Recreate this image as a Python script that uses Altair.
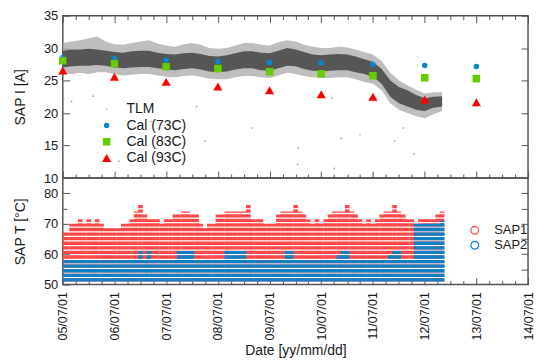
import altair as alt
import pandas as pd

# ---------------- data ----------------
# TLM current band: outer fringe and dense core, bimonthly
tlm_dates = ["2005-07-01","2005-09-01","2005-11-01","2006-01-01","2006-03-01","2006-05-01",
             "2006-07-01","2006-09-01","2006-11-01","2007-01-01","2007-03-01","2007-05-01",
             "2007-07-01","2007-09-01","2007-11-01","2008-01-01","2008-03-01","2008-05-01",
             "2008-07-01","2008-09-01","2008-11-01","2009-01-01","2009-03-01","2009-05-01",
             "2009-07-01","2009-09-01","2009-11-01","2010-01-01","2010-03-01","2010-05-01",
             "2010-07-01","2010-09-01","2010-11-01","2011-01-01","2011-03-01","2011-05-01",
             "2011-07-01","2011-09-01","2011-11-01","2012-01-01","2012-03-01","2012-05-01",
             "2012-07-01","2012-09-01","2012-11-01"]
tlm_outer_lo = [26.0,26.0,26.2,26.0,26.3,26.3,26.0,25.8,25.9,26.0,26.0,25.8,25.6,25.5,25.7,
                25.8,25.6,25.3,25.2,25.2,25.5,25.7,25.7,25.5,25.4,25.8,26.2,26.0,25.7,25.5,
                25.4,25.4,25.5,25.5,25.2,24.8,24.5,23.5,21.5,20.5,20.0,19.5,19.2,19.8,20.3]
tlm_core_lo = [27.0,27.2,27.3,27.3,27.4,27.3,27.0,26.9,27.0,27.1,27.1,26.9,26.7,26.6,26.8,
               26.9,26.7,26.4,26.3,26.4,26.7,26.9,26.9,26.6,26.5,26.9,27.3,27.2,26.8,26.5,
               26.4,26.5,26.6,26.6,26.3,26.0,25.6,24.5,22.5,21.5,21.0,20.5,20.3,20.8,21.0]
tlm_core_hi = [29.6,29.8,29.8,29.9,29.8,29.6,29.4,29.3,29.5,29.6,29.6,29.3,29.1,29.0,29.2,
               29.3,29.1,28.8,28.7,28.9,29.2,29.5,29.5,29.3,29.2,29.6,30.0,29.8,29.4,29.0,
               28.9,29.0,29.1,29.0,28.7,28.3,27.9,26.8,25.0,24.0,23.5,22.8,22.3,22.5,22.6]
tlm_outer_hi = [30.8,31.0,31.2,31.5,31.8,31.0,30.6,30.5,30.8,31.0,31.2,30.7,30.4,30.2,30.6,
                30.8,30.5,30.0,29.9,30.0,30.4,30.8,30.8,30.5,30.4,30.9,31.2,31.0,30.5,30.2,
                30.0,30.0,30.2,30.1,29.8,29.4,29.0,28.0,26.2,25.0,24.3,23.6,23.0,23.2,23.2]

# sparse TLM outliers
outlier_dates = ["2005-09-01","2006-02-01","2007-03-15","2008-04-01","2006-08-01","2008-02-01",
                 "2009-03-01","2010-01-15","2010-10-01","2010-11-20","2011-04-01","2011-12-01",
                 "2012-02-01","2012-04-15","2010-09-15","2010-01-20"]
outlier_vals = [21.8,22.6,18.7,15.7,12.6,21.0,17.7,12.1,11.5,16.1,16.7,15.7,17.7,13.7,22.3,14.6]

# calibration predictions
cal_dates = ["2005-07-01","2006-07-01","2007-07-01","2008-07-01","2009-07-01",
             "2010-07-01","2011-07-01","2012-07-01","2013-07-01"]
cal_73 = [28.55,28.4,28.15,27.95,27.8,27.7,27.5,27.33,27.18]
cal_83 = [28.05,27.6,27.13,26.85,26.36,26.05,25.75,25.44,25.3]
cal_93 = [26.55,25.6,24.8,24.1,23.5,22.9,22.5,22.1,21.65]
cal_series = ["TLM", "Cal (73C)", "Cal (83C)", "Cal (93C)"]

# SAP temperatures: monthly upper envelope, floor of the quantised readings
sap_months = pd.date_range("2005-07-01", "2012-11-01", freq="MS").strftime("%Y-%m-%d").tolist()
sap_floor = 51.0
sap1_max = [67.5,67.5,70,70,71.5,70,
            71.5,70,71.5,70,68.5,68.5,68.5,68.5,70,70,71.5,74,
            76.5,73,71.5,71.5,71.5,70,71.5,71.5,73,73,74,74,
            73,73,70,68.5,70,70,73,73,74,74,74,74,
            74,76.5,71.5,71.5,71.5,70,70,70,73,74,74,74,
            76.5,74,73,71.5,70,71.5,70,71.5,73,74,74,74,
            76.5,74,73,71.5,70,71.5,70,71.5,73,74,74,76.5,
            74,73,71.5,71.5,70,71.5,71.5,71.5,71.5,73,74]
sap2_max = [58,58,58,58.5,58.5,58.5,
            58.5,58.5,58,58,58,58,58,58,58,58.5,58.5,58.5,
            61,58.5,61,58.5,58,58,58,58,58.5,61,61,61,
            61,58.5,58,58,58,58,58.5,58.5,61,61,61,61,
            61,58.5,58.5,58,58,58,58,58,58.5,58.5,61,61,
            58.5,58.5,58,58,58,58,58,58,58.5,58.5,60,61,
            61,58.5,58,58,58,58,58,58,58.5,58.5,60,61,
            61,58.5,58.5,58.5,70,70,70,70,70,70,71]
sap_names = ["SAP1", "SAP2"]

# axis ticks
major_years = list(range(2005, 2015))
top_y_ticks = [10, 15, 20, 25, 30, 35]
bot_y_ticks = [50, 60, 70, 80]
bot_y_minor = [55, 65, 75]
bot_y_right = [55, 60, 65, 70, 75, 80]

# ---------------- styling ----------------
FONT = "Liberation Sans"
TXT = "#1a1a1a"
FRAME = "#555555"
C_BLUE = "#0a87d0"
C_GREEN = "#66cc00"
C_RED = "#ff0000"
S_RED = "#ff4646"
S_BLUE = "#0b80c6"
W = 467

major_ticks = [alt.DateTime(year=y, month=7, date=1) for y in major_years]
minor_ticks = [alt.DateTime(year=y, month=m, date=1)
               for y in major_years for m in (1, 4, 10)
               if (2005, 7) < (y, m) < (2014, 7)]
xscale = alt.Scale(domain=[alt.DateTime(year=2005, month=7, date=1),
                           alt.DateTime(year=2014, month=7, date=1)])
yscale_top = alt.Scale(domain=[10, 35])
yscale_bot = alt.Scale(domain=[50, 85])


def tick_axis(orient, values, size):
    return alt.Axis(orient=orient, values=values, tickSize=size, offset=-size,
                    domain=False, grid=False, labels=False, ticks=True,
                    tickColor=FRAME, tickWidth=1, title=None)


# ---------------- top panel ----------------
tlm_df = pd.DataFrame({"date": tlm_dates, "outer_lo": tlm_outer_lo, "core_lo": tlm_core_lo,
                       "core_hi": tlm_core_hi, "outer_hi": tlm_outer_hi})
out_df = pd.DataFrame({"date": outlier_dates, "value": outlier_vals})
cal_df = pd.concat([
    pd.DataFrame({"date": cal_dates, "value": vals, "series": name})
    for name, vals in zip(cal_series[1:], [cal_73, cal_83, cal_93])
], ignore_index=True)

y_left_top = alt.Axis(orient="left", values=top_y_ticks, tickSize=7, offset=-7, domain=False,
                      grid=False, tickColor=FRAME, labelPadding=5, title="SAP I [A]",
                      titlePadding=16)

fringe = alt.Chart(tlm_df).mark_area(color="#a8a8a8", opacity=0.75).encode(
    x=alt.X("date:T", scale=xscale, axis=tick_axis("bottom", major_ticks, 7)),
    y=alt.Y("outer_lo:Q", scale=yscale_top, axis=y_left_top),
    y2="outer_hi:Q",
)
core = alt.Chart(tlm_df).mark_area(color="#444444", opacity=0.85).encode(
    x=alt.X("date:T", scale=xscale, axis=None),
    y=alt.Y("core_lo:Q", scale=yscale_top, axis=None),
    y2="core_hi:Q",
)
outl = alt.Chart(out_df).mark_circle(size=3, color="#8a8a8a", opacity=0.8).encode(
    x=alt.X("date:T", scale=xscale, axis=None),
    y=alt.Y("value:Q", scale=yscale_top, axis=None),
)
cal = alt.Chart(cal_df).mark_point(filled=True, opacity=1).encode(
    x=alt.X("date:T", scale=xscale, axis=None),
    y=alt.Y("value:Q", scale=yscale_top, axis=None),
    color=alt.Color("series:N", scale=alt.Scale(domain=cal_series,
                    range=["#9a9a9a", C_BLUE, C_GREEN, C_RED]),
                    legend=alt.Legend(orient="none", legendX=37, legendY=87, title=None,
                                      labelFontSize=14, rowPadding=2.3, labelOffset=13)),
    shape=alt.Shape("series:N", scale=alt.Scale(domain=cal_series,
                    range=["circle", "circle", "square", "triangle-up"])),
    size=alt.Size("series:N", scale=alt.Scale(domain=cal_series, range=[2, 85, 100, 100])),
)
top_carrier1 = alt.Chart(cal_df).mark_point(opacity=0).encode(
    x=alt.X("date:T", scale=xscale, axis=tick_axis("bottom", minor_ticks, 4)),
    y=alt.Y("value:Q", scale=yscale_top, axis=tick_axis("right", top_y_ticks, 7)),
)
top_carrier2 = alt.Chart(cal_df).mark_point(opacity=0).encode(
    x=alt.X("date:T", scale=xscale, axis=tick_axis("top", major_ticks, 7)),
    y=alt.Y("value:Q", scale=yscale_top, axis=None),
)
top_carrier3 = alt.Chart(cal_df).mark_point(opacity=0).encode(
    x=alt.X("date:T", scale=xscale, axis=tick_axis("top", minor_ticks, 4)),
    y=alt.Y("value:Q", scale=yscale_top, axis=None),
)
top = alt.layer(fringe, core, outl, cal, top_carrier1, top_carrier2, top_carrier3).resolve_axis(
    x="independent", y="independent").properties(width=W, height=163)

# ---------------- bottom panel ----------------
sap_df = pd.concat([
    pd.DataFrame({"date": sap_months, "lo": sap_floor, "hi": vals, "sensor": name})
    for name, vals in zip(sap_names, [sap1_max, sap2_max])
], ignore_index=True)

x_bottom = alt.Axis(orient="bottom", values=major_ticks, tickSize=7, offset=-7, domain=False,
                    grid=False, tickColor=FRAME, format="%y/%m/%d", labelAngle=270,
                    labelAlign="right", labelBaseline="middle", labelPadding=7,
                    labelFontSize=12.5, title="Date [yy/mm/dd]", titlePadding=3)
y_left_bot = alt.Axis(orient="left", values=bot_y_ticks, tickSize=7, offset=-7, domain=False,
                      grid=False, tickColor=FRAME, labelPadding=5, title="SAP T [°C]",
                      titlePadding=16)

rules = alt.Chart(sap_df).mark_rule(strokeWidth=4.6, strokeDash=[3.3, 1.3], clip=True).encode(
    x=alt.X("date:T", scale=xscale, axis=x_bottom),
    y=alt.Y("lo:Q", scale=yscale_bot, axis=y_left_bot),
    y2="hi:Q",
    color=alt.Color("sensor:N", scale=alt.Scale(domain=sap_names, range=[S_RED, S_BLUE]),
                    legend=alt.Legend(orient="none", legendX=407, legendY=46, title=None,
                                      symbolType="circle", symbolSize=60,
                                      symbolStrokeWidth=1.2, symbolFillColor="transparent",
                                      labelFontSize=13, rowPadding=1, labelOffset=13)),
)
bot_carrier1 = alt.Chart(sap_df).mark_point(opacity=0).encode(
    x=alt.X("date:T", scale=xscale, axis=tick_axis("bottom", minor_ticks, 4)),
    y=alt.Y("hi:Q", scale=yscale_bot, axis=tick_axis("left", bot_y_minor, 4)),
)
bot_carrier2 = alt.Chart(sap_df).mark_point(opacity=0).encode(
    x=alt.X("date:T", scale=xscale, axis=None),
    y=alt.Y("hi:Q", scale=yscale_bot, axis=tick_axis("right", bot_y_right, 7)),
)
bottom = alt.layer(rules, bot_carrier1, bot_carrier2).resolve_axis(
    x="independent", y="independent").properties(width=W, height=107)

chart = alt.vconcat(top, bottom, spacing=0, bounds="flush").resolve_scale(
    color="independent", shape="independent", size="independent"
).properties(
    padding={"left": 4, "top": 0, "right": 0, "bottom": 0},
    background="white",
).configure_view(
    stroke=FRAME, strokeWidth=1.5
).configure_axis(
    labelFont=FONT, titleFont=FONT, labelFontSize=13, titleFontSize=14,
    labelColor=TXT, titleColor=TXT, titleFontWeight="normal", grid=False
).configure_legend(
    labelFont=FONT, labelColor=TXT
)

chart.save("out.html", embed_options={"renderer": "svg", "actions": False})
